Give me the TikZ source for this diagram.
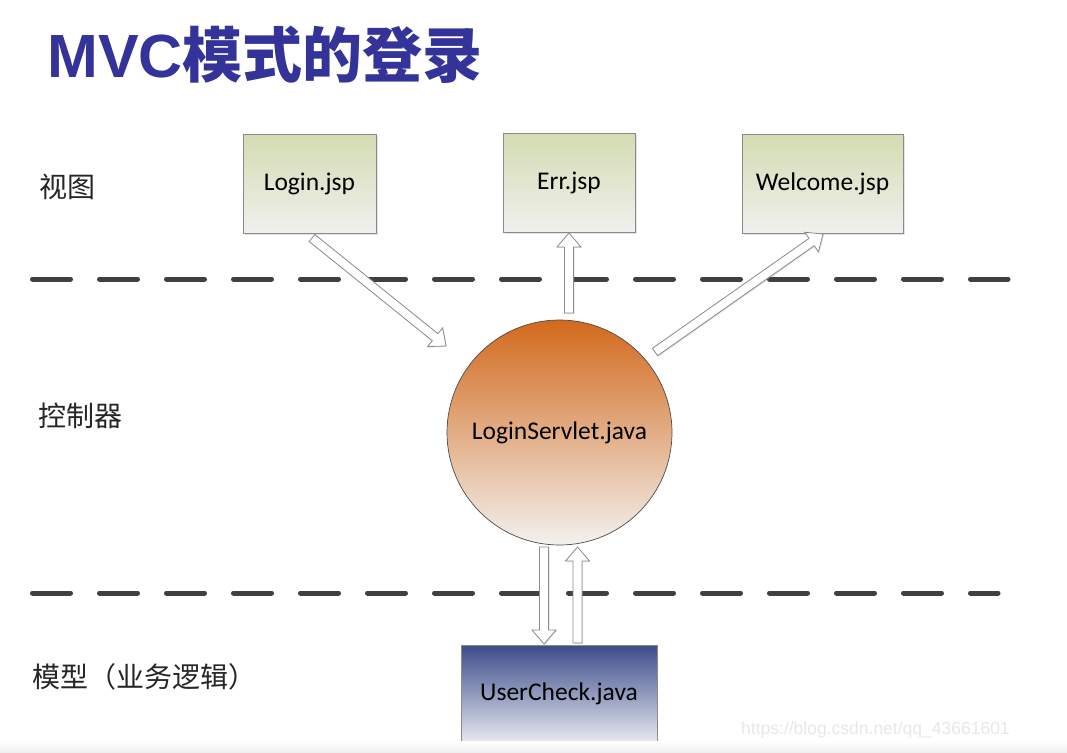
\documentclass[tikz,border=0pt]{standalone}
\usepackage{fontspec}
\setmainfont{Carlito}
\newfontfamily\cjk{Noto Sans CJK SC}
\newfontfamily\titlefont{Liberation Sans}
\newfontfamily\wmfont{Liberation Sans}
\usetikzlibrary{calc,shadows}
\definecolor{titleblue}{HTML}{333399}
\definecolor{boxtop}{HTML}{D3DCB2}
\definecolor{boxbot}{HTML}{F0F0EE}
\definecolor{boxline}{HTML}{8A8A8A}
\definecolor{orangetop}{HTML}{D2691C}
\definecolor{orangebot}{HTML}{F3F1EF}
\definecolor{bluetop}{HTML}{3C4C8A}
\definecolor{bluebot}{HTML}{E6E8F0}
\definecolor{dashcol}{HTML}{404040}
\newcommand{\blockarrow}[2]{%
  \path (#1) coordinate (ba-s) (#2) coordinate (ba-t);
  \path ($(ba-t)!14pt!(ba-s)$) coordinate (ba-h);
  \draw[blockarrowstyle]
    ($(ba-s)!4.5pt!90:(ba-t)$) -- ($(ba-h)!4.5pt!90:(ba-t)$) --
    ($(ba-h)!12pt!90:(ba-t)$) -- (ba-t) --
    ($(ba-h)!12pt!-90:(ba-t)$) -- ($(ba-h)!4.5pt!-90:(ba-t)$) --
    ($(ba-s)!4.5pt!-90:(ba-t)$) -- cycle;}
\tikzset{
  viewbox/.style={draw=boxline, line width=0.9pt, top color=boxtop, bottom color=boxbot,
    minimum height=99pt, inner sep=0pt, font=\fontsize{25.5}{28}\selectfont,
    drop shadow={shadow xshift=1.5pt, shadow yshift=-1.5pt, opacity=0.2}},
  modelbox/.style={draw=boxline, line width=0.9pt, top color=bluetop, bottom color=bluebot,
    minimum width=196pt, minimum height=97pt, inner sep=0pt, font=\fontsize{25.5}{28}\selectfont},
  ctrlcircle/.style={circle, draw=black!70, line width=0.7pt, top color=orangetop, bottom color=orangebot,
    minimum size=225pt, inner sep=0pt, font=\fontsize{25.5}{28}\selectfont},
  layerlabel/.style={anchor=west, inner sep=0pt, font=\cjk\fontsize{28}{30}\selectfont, text=black!85},
  layerline/.style={draw=dashcol, line width=5pt, line cap=round, dash pattern=on 38pt off 29pt},
  blockarrowstyle/.style={fill=white, draw=boxline, line width=0.8pt, line join=miter,
    drop shadow={shadow xshift=1pt, shadow yshift=-1pt, opacity=0.2}},
}
\begin{document}
\begin{tikzpicture}[x=1pt, y=-1pt]
\useasboundingbox[fill=white] (0,0) rectangle (1067,752);
% title
\node[anchor=west, inner sep=0pt, text=titleblue] (title) at (47,55)
  {\titlefont\bfseries\fontsize{61}{63}\selectfont MVC\cjk\bfseries\fontsize{60}{63}\selectfont 模式的登录};
% layer labels
\node[layerlabel] (lview) at (39,187) {视图};
\node[layerlabel] (lctrl) at (38,416) {控制器};
\node[layerlabel] (lmodel) at (32,677) {模型（业务逻辑）};
% dashed separators
\coordinate (d1a) at (32.5,279);
\coordinate (d1b) at (1008,279);
\coordinate (d2a) at (32.5,593);
\coordinate (d2b) at (998,593);
\draw[layerline] (d1a) -- (d1b);
\draw[layerline] (d2a) -- (d2b);
% view boxes
\node[viewbox, minimum width=133pt] (login) at (309.5,183.5) {Login.jsp};
\node[viewbox, minimum width=132pt] (err) at (569,182.5) {Err.jsp};
\node[viewbox, minimum width=161pt] (welcome) at (822.5,183.5) {Welcome.jsp};
% controller
\node[ctrlcircle] (servlet) at (559.5,432.5) {LoginServlet.java};
% model
\node[modelbox] (usercheck) at (559,693.5) {UserCheck.java};
% arrow end points
\coordinate (loginOut) at (312,238);
\coordinate (servletIn) at (446,346);
\coordinate (errFrom) at (569,313);
\coordinate (errIn) at (569,233);
\coordinate (welFrom) at (655,352);
\coordinate (welIn) at (823,234);
\coordinate (downFrom) at (544,547);
\coordinate (downTo) at (544,644);
\coordinate (upFrom) at (577.5,643);
\coordinate (upTo) at (577.5,547);
\blockarrow{loginOut}{servletIn}
\blockarrow{errFrom}{errIn}
\blockarrow{welFrom}{welIn}
\blockarrow{downFrom}{downTo}
\blockarrow{upFrom}{upTo}
% bottom strip and watermark
\fill[top color=white, bottom color=black!6] (0,741) rectangle (1067,752);
\node[anchor=west, inner sep=0pt, text=black!9, font=\wmfont\fontsize{17.5}{19}\selectfont] (wm) at (741,730) {https://blog.csdn.net/qq\_43661601};
\end{tikzpicture}
\end{document}
